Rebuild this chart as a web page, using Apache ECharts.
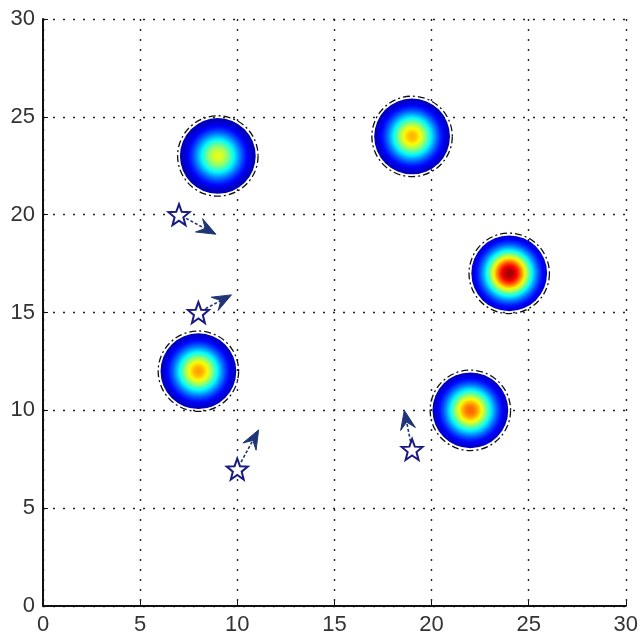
<!DOCTYPE html>
<html>
<head>
<meta charset="UTF-8">
<title>blobs</title>
<script src="https://cdn.jsdelivr.net/npm/echarts@6/dist/echarts.min.js"></script>
</head>
<body style="margin:0">
<div id="main" style="width:641px;height:638px"></div>
<script>
// blob centres and peak levels (0..1 on the jet scale)
var blobX = [9, 19, 24, 8, 22];
var blobY = [23, 24, 17, 12, 10];
var blobPeak = [0.6, 0.7, 0.97, 0.72, 0.78];
var blobR = [1.95, 1.95, 1.95, 1.95, 1.95];
// stars and where their arrows point
var starX = [7, 8, 10, 19];
var starY = [20, 15, 7, 8];
var arrowX = [8.9, 9.7, 11.1, 18.6];
var arrowY = [19.0, 15.9, 9.0, 10.0];
var tickLabels = ['0', '5', '10', '15', '20', '25', '30'];

function jet(v) {
    function c(x) { return Math.round(255 * Math.max(0, Math.min(1, x))); }
    return 'rgb(' + c(1.5 - Math.abs(4 * v - 3)) + ',' + c(1.5 - Math.abs(4 * v - 2)) + ',' + c(1.5 - Math.abs(4 * v - 1)) + ')';
}

function blobGradient(peak) {
    var stops = [];
    for (var i = 0; i <= 20; i++) {
        var t = i / 20;
        stops.push({ offset: t, color: jet(peak * Math.exp(-2.6 * t * t)) });
    }
    return { type: 'radial', x: 0.5, y: 0.5, r: 0.5, colorStops: stops };
}

function starPath() {
    var pts = [];
    for (var i = 0; i < 10; i++) {
        var a = -Math.PI / 2 + i * Math.PI / 5;
        var r = i % 2 === 0 ? 50 : 21;
        pts.push((50 + r * Math.cos(a)).toFixed(1) + ',' + (50 + r * Math.sin(a)).toFixed(1));
    }
    return 'path://M' + pts.join('L') + 'Z';
}

var blobData = blobX.map(function (x, i) { return [x, blobY[i], blobR[i], blobPeak[i]]; });
var starData = starX.map(function (x, i) { return [x, starY[i]]; });
var arrowData = starX.map(function (x, i) { return [x, starY[i], arrowX[i], arrowY[i]]; });

var chart = echarts.init(document.getElementById('main'));

var axisCommon = {
    type: 'value', min: 0, max: 30, interval: 5,
    axisLine: { show: true, onZero: false, lineStyle: { color: '#111', width: 2 } },
    axisTick: { show: true, inside: true, length: 5, lineStyle: { color: '#111' } },
    splitLine: { show: true, lineStyle: { color: '#222', width: 1.4, type: [2, 8] } },
    axisLabel: {
        color: '#333', fontSize: 22, fontFamily: 'Liberation Sans, Arial', margin: 8,
        formatter: function (v) { return tickLabels[v / 5]; }
    }
};

chart.setOption({
    animation: false,
    backgroundColor: '#fff',
    grid: { left: 43, right: 10, top: 19, bottom: 32 },
    xAxis: axisCommon,
    yAxis: axisCommon,
    series: [
        {
            type: 'custom',
            data: blobData,
            renderItem: function (params, api) {
                var c = api.coord([api.value(0), api.value(1)]);
                var r = api.size([api.value(2), 0])[0];
                var r2 = api.size([api.value(2) + 0.12, 0])[0];
                return {
                    type: 'group',
                    children: [
                        {
                            type: 'circle',
                            shape: { cx: c[0], cy: c[1], r: r },
                            style: { fill: blobGradient(api.value(3)) }
                        },
                        {
                            type: 'circle',
                            shape: { cx: c[0], cy: c[1], r: r2 },
                            style: { fill: 'none', stroke: '#111', lineWidth: 1.3, lineDash: [7, 3, 2, 3] }
                        }
                    ]
                };
            }
        },
        {
            type: 'custom',
            data: arrowData,
            renderItem: function (params, api) {
                var p0 = api.coord([api.value(0), api.value(1)]);
                var p1 = api.coord([api.value(2), api.value(3)]);
                var dx = p1[0] - p0[0], dy = p1[1] - p0[1];
                var len = Math.sqrt(dx * dx + dy * dy);
                var ux = dx / len, uy = dy / len;
                var nx = -uy, ny = ux;
                var hl = 19, hw = 7.5, notch = 12;
                var base = [p1[0] - ux * hl, p1[1] - uy * hl];
                var mid = [p1[0] - ux * notch, p1[1] - uy * notch];
                var start = [p0[0] + ux * 8, p0[1] + uy * 8];
                return {
                    type: 'group',
                    children: [
                        {
                            type: 'line',
                            shape: { x1: start[0], y1: start[1], x2: mid[0], y2: mid[1] },
                            style: { stroke: '#1f3577', lineWidth: 1.6, lineDash: [3, 2] }
                        },
                        {
                            type: 'polygon',
                            shape: { points: [p1, [base[0] + nx * hw, base[1] + ny * hw], mid, [base[0] - nx * hw, base[1] - ny * hw]] },
                            style: { fill: '#1f3577', stroke: '#1f3577', lineWidth: 1 }
                        }
                    ]
                };
            }
        },
        {
            type: 'scatter',
            data: starData,
            symbol: starPath(),
            symbolSize: 21,
            itemStyle: { color: '#fff', borderColor: '#1a1a80', borderWidth: 2, opacity: 1 },
            z: 5
        }
    ]
});
</script>
</body>
</html>
